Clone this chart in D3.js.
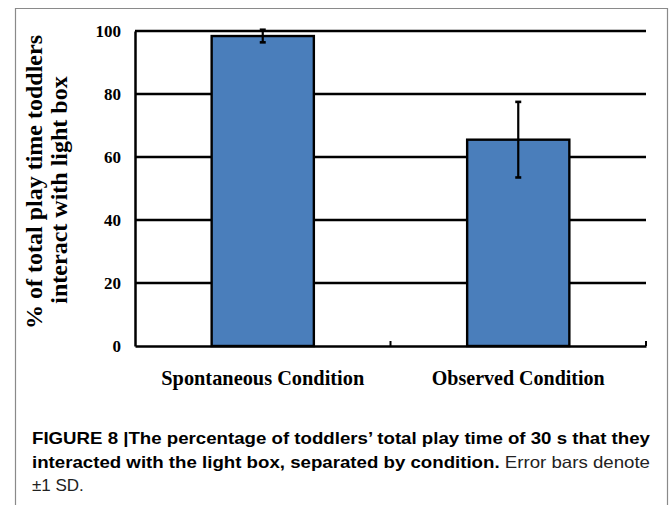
<!DOCTYPE html>
<html>
<head>
<meta charset="utf-8">
<script src="https://cdn.jsdelivr.net/npm/d3@7"></script>
<style>
  html, body { margin: 0; padding: 0; background: #fff; }
  svg { display: block; }
</style>
</head>
<body>
<svg id="chart" width="669" height="505"></svg>
<script>
const categories = ["Spontaneous Condition", "Observed Condition"];
const means = [98.4, 65.5];
const sds = [2.0, 12.0];
const yTicks = [0, 20, 40, 60, 80, 100];
const yLabelLines = ["% of total play time toddlers", "interact with light box"];
const captionBold1 = "FIGURE 8 |The percentage of toddlers\u2019 total play time of 30 s that they";
const captionBold2 = "interacted with the light box, separated by condition.";
const captionNormal2 = " Error bars denote";
const captionLine3 = "\u00b11 SD.";

const svg = d3.select("#chart");
const W = 669, H = 505;
const margin = { left: 135, right: 23, top: 31, bottom: 159 };
const x0 = margin.left, x1 = W - margin.right;
const yTop = margin.top, yBot = H - margin.bottom;

// frame
svg.append("path")
  .attr("d", `M15.5,${H} L15.5,8.5 L667.5,8.5 L667.5,${H}`)
  .attr("fill", "none").attr("stroke", "#8a8a8a").attr("stroke-width", 1.2);

const x = d3.scaleBand().domain(categories).range([x0, x1]).paddingInner(0).paddingOuter(0);
const y = d3.scaleLinear().domain([0, 100]).range([yBot, yTop]);

const serif = "'Liberation Serif', 'Times New Roman', serif";

// gridlines
svg.append("g").selectAll("line").data(yTicks.filter(d => d > 0)).join("line")
  .attr("x1", x0).attr("x2", x1)
  .attr("y1", d => y(d)).attr("y2", d => y(d))
  .attr("stroke", "#000").attr("stroke-width", 2.5);

// y axis
const yAxis = d3.axisLeft(y).tickValues(yTicks).tickSize(0).tickPadding(14);
const gy = svg.append("g").attr("transform", `translate(${x0},0)`).call(yAxis);
gy.select(".domain").attr("stroke", "#000").attr("stroke-width", 2.5);
gy.selectAll("text")
  .attr("font-family", serif).attr("font-weight", "bold").attr("font-size", 17).attr("fill", "#000");

// bars
const bw = x.bandwidth() * 0.4;
svg.append("g").selectAll("rect").data(categories).join("rect")
  .attr("x", d => x(d) + (x.bandwidth() - bw) / 2)
  .attr("width", bw)
  .attr("y", (d, i) => y(means[i]))
  .attr("height", (d, i) => y(0) - y(means[i]))
  .attr("fill", "#4a7ebb").attr("stroke", "#000").attr("stroke-width", 2.4);

// error bars
const eg = svg.append("g");
categories.forEach((c, i) => {
  const cx = x(c) + x.bandwidth() / 2;
  const lo = y(means[i] - sds[i]), hi = y(means[i] + sds[i]);
  eg.append("line").attr("x1", cx).attr("x2", cx).attr("y1", lo).attr("y2", hi)
    .attr("stroke", "#000").attr("stroke-width", 2.2);
  [lo, hi].forEach(v => eg.append("line").attr("x1", cx - 3).attr("x2", cx + 3)
    .attr("y1", v).attr("y2", v).attr("stroke", "#000").attr("stroke-width", 2.6));
});

// x axis (baseline) with inward ticks at band edges
const xAxis = d3.axisBottom(x).tickSize(0).tickFormat("");
const gx = svg.append("g").attr("transform", `translate(0,${yBot})`).call(xAxis);
gx.select(".domain").attr("stroke", "#000").attr("stroke-width", 2.6);
gx.selectAll(".tick").remove();
const edges = [x(categories[1]), x1];
gx.selectAll(".edge").data(edges).join("line").attr("class", "edge")
  .attr("x1", d => d).attr("x2", d => d).attr("y1", 0).attr("y2", -5)
  .attr("stroke", "#000").attr("stroke-width", 2);

// category labels
const catWidths = [203, 173];
svg.append("g").selectAll("text").data(categories).join("text")
  .attr("x", (d, i) => x(d) + x.bandwidth() / 2 - catWidths[i] / 2)
  .attr("y", 385)
  .attr("font-family", serif).attr("font-weight", "bold").attr("font-size", 21)
  .attr("textLength", (d, i) => catWidths[i]).attr("lengthAdjust", "spacingAndGlyphs")
  .text(d => d);

// y label
const ylCenters = [-182, -190];
const yl = svg.append("text")
  .attr("transform", `rotate(-90)`)
  .attr("font-family", serif).attr("font-weight", "bold").attr("font-size", 24)
  .attr("text-anchor", "middle");
yLabelLines.forEach((t, i) => {
  yl.append("tspan").attr("x", ylCenters[i]).attr("y", 42 + i * 25).text(t);
});

// caption
const sans = "'Liberation Sans', Arial, Helvetica, sans-serif";
svg.append("text").attr("x", 32).attr("y", 444)
  .attr("font-family", sans).attr("font-weight", "bold").attr("font-size", 16.5)
  .attr("textLength", 618).attr("lengthAdjust", "spacingAndGlyphs")
  .text(captionBold1);
const c2 = svg.append("text").attr("x", 32).attr("y", 468)
  .attr("font-family", sans).attr("font-size", 16.5)
  .attr("textLength", 618).attr("lengthAdjust", "spacingAndGlyphs");
c2.append("tspan").attr("font-weight", "bold").text(captionBold2);
c2.append("tspan").attr("fill", "#222").text(captionNormal2);
svg.append("text").attr("x", 32).attr("y", 491)
  .attr("font-family", sans).attr("font-size", 17).attr("fill", "#222")
  .text(captionLine3);
</script>
</body>
</html>
